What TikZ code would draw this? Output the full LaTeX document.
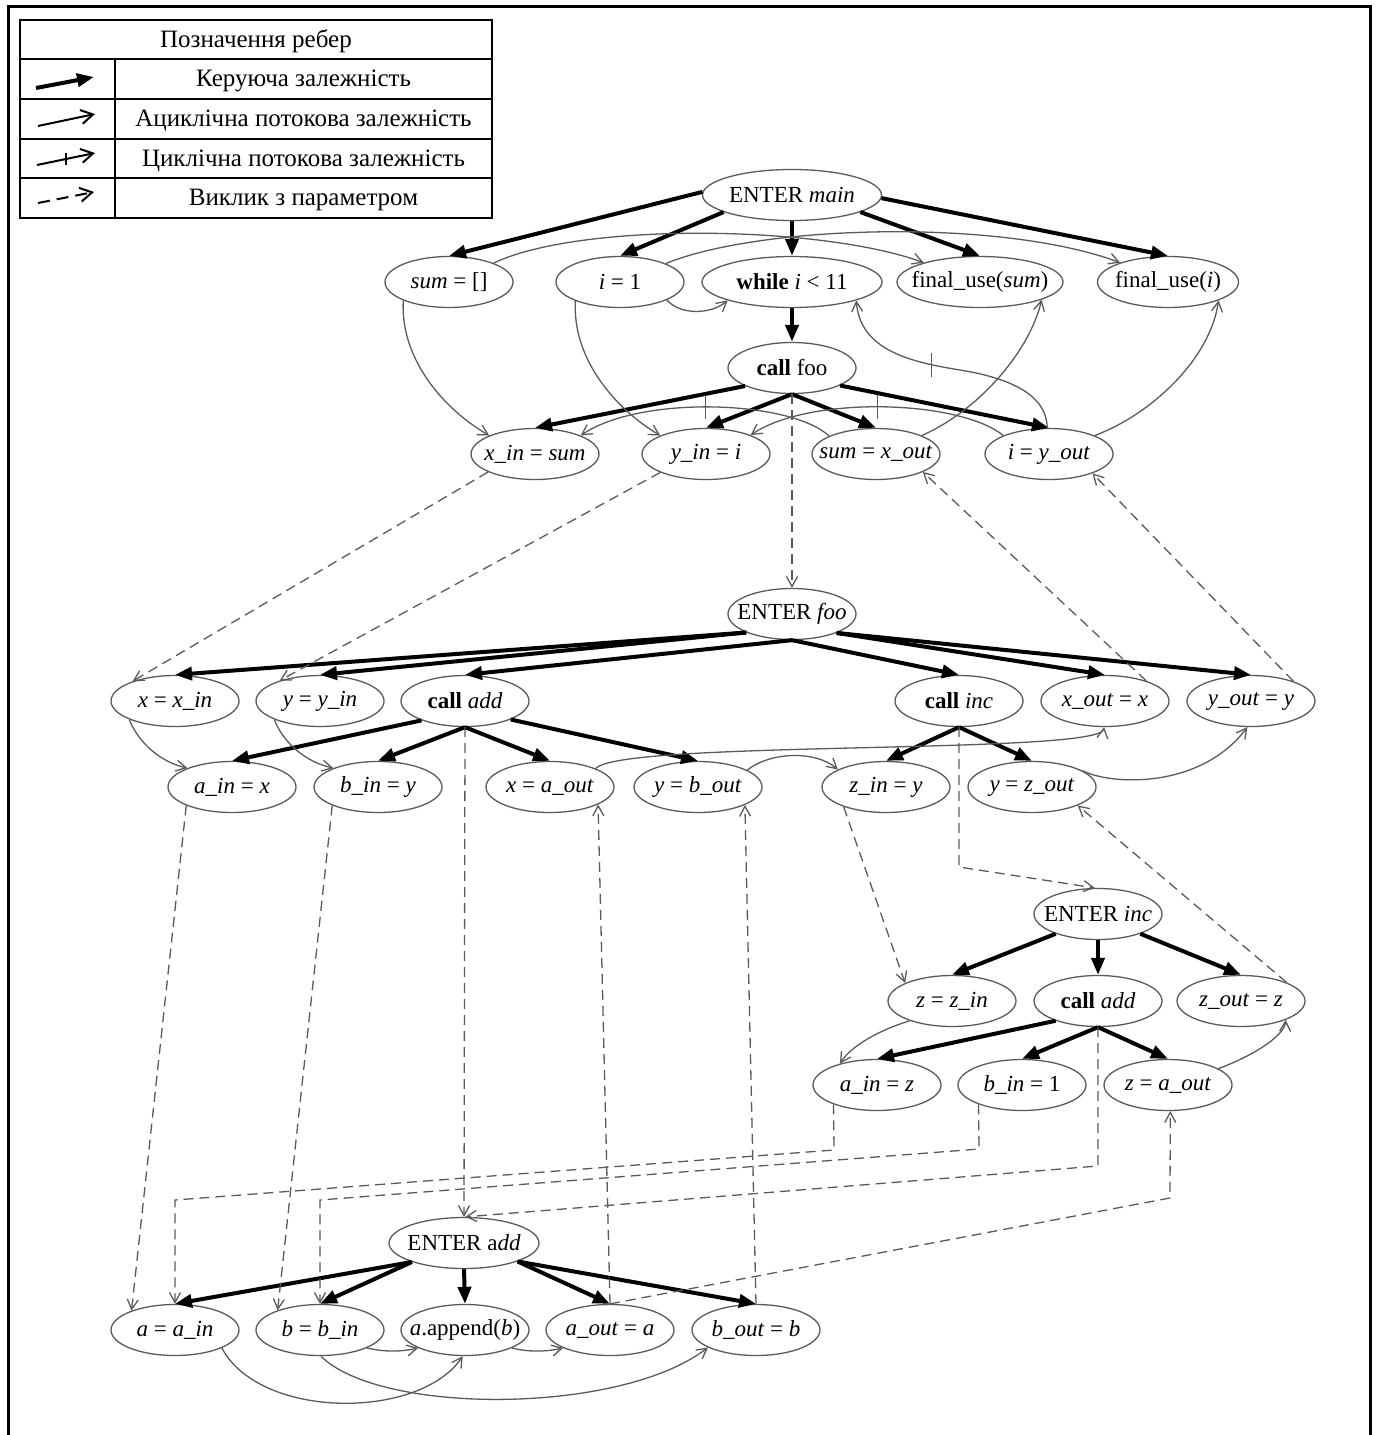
\documentclass[tikz,border=0pt]{standalone}
\usepackage{fontspec}
\setmainfont{Liberation Serif}
\usetikzlibrary{shapes.geometric,arrows.meta,decorations.markings}
\newcommand\ntext[1]{\makebox[0pt]{#1}}
\newcommand\ndfont{\fontsize{23}{27}\selectfont}
\newcommand\legfont{\fontsize{25}{29}\selectfont}
\definecolor{linegray}{HTML}{5A5A5A}
\tikzset{
  nd/.style={ellipse, draw=linegray, line width=1.3pt, minimum width=128pt,
    minimum height=51pt, inner sep=0pt, font=\ndfont},
  ctl/.style={draw=black, line width=4pt, -{Triangle[length=17pt,width=13pt]}},
  flow/.style={draw=linegray, line width=1.3pt, -{Straight Barb[length=10pt,width=11pt]}},
  % loop-carried flow: a short upright tick across the edge
  cyc/.style={flow, postaction={decorate, decoration={markings,
    mark=at position #1 with {\pgftransformresetnontranslations
      \draw[linegray, line width=1.3pt, -] (0pt,-12pt) -- (0pt,12pt);}}}},
  parcall/.style={flow, dash pattern=on 10pt off 6pt},
  legtxt/.style={font=\legfont, inner sep=0pt},
  tbl/.style={draw=black, line width=2pt},
}
\begin{document}
\begin{tikzpicture}[x=1pt, y=-1pt]
\useasboundingbox (0,0) rectangle (1377,1435);
% outer frame, open at the bottom
\draw[line width=3pt] (8,1435) -- (8,6) -- (1370,6) -- (1370,1435);

% ---------- legend ----------
\draw[tbl] (20,20) rectangle (492,218);
\foreach \yy in {59,99,139,178} \draw[tbl] (20,\yy) -- (492,\yy);
\draw[tbl] (115,59) -- (115,218);
\node[legtxt] (lt0) at (256,41) {Позначення ребер};
\node[legtxt] (lt1) at (303.5,81) {Керуюча залежність};
\node[legtxt] (lt2) at (303.5,121) {Ациклічна потокова залежність};
\node[legtxt] (lt3) at (303.5,161) {Циклічна потокова залежність};
\node[legtxt] (lt4) at (303.5,200) {Виклик з параметром};
\coordinate (lg1a) at (36,88);  \coordinate (lg1b) at (94,77);
\coordinate (lg2a) at (38,126); \coordinate (lg2b) at (95,114);
\coordinate (lg3a) at (37,165); \coordinate (lg3b) at (95,153);
\coordinate (lg4a) at (38,203); \coordinate (lg4b) at (94,192);
\draw[line width=4pt, -{Triangle[length=17pt,width=13pt]}] (lg1a) -- (lg1b);
\draw[line width=2pt, -{Straight Barb[length=12pt,width=14pt]}] (lg2a) -- (lg2b);
\draw[line width=2pt, -{Straight Barb[length=12pt,width=14pt]},
  postaction={decorate, decoration={markings,
    mark=at position 0.5 with {\pgftransformresetnontranslations
      \draw[black, line width=1.5pt, -] (0pt,-6pt) -- (0pt,6pt);}}}]
  (lg3a) -- (lg3b);
\draw[line width=2pt, dash pattern=on 12pt off 7pt, -{Straight Barb[length=12pt,width=14pt]}] (lg4a) -- (lg4b);

% ---------- main ----------
\node[nd, minimum width=179pt] (main) at (792,195) {\ntext{ENTER \textit{main}}};
\node[nd] (sum) at (449,282) {\ntext{\textit{sum} = []}};
\node[nd] (ione) at (620,282) {\ntext{\textit{i} = 1}};
\node[nd, minimum width=180pt] (while) at (792,282) {\ntext{\textbf{while} \textit{i} < 11}};
\node[nd, minimum width=166pt] (fsum) at (980,282) {\ntext{final\_use(\textit{sum})}};
\node[nd, minimum width=141pt] (fi) at (1168,282) {\ntext{final\_use(\textit{i})}};
\node[nd] (cfoo) at (792,368) {\ntext{\textbf{call} foo}};
\node[nd] (xin) at (535,454) {\ntext{\textit{x\_in} = \textit{sum}}};
\node[nd] (yin) at (706,454) {\ntext{\textit{y\_in} = \textit{i}}};
\node[nd] (sxout) at (876,454) {\ntext{\textit{sum} = \textit{x\_out}}};
\node[nd] (iyout) at (1049,454) {\ntext{\textit{i} = \textit{y\_out}}};

% ---------- foo ----------
\node[nd] (efoo) at (792,614) {\ntext{ENTER \textit{foo}}};
\node[nd] (xx) at (175,701) {\ntext{\textit{x} = \textit{x\_in}}};
\node[nd] (yy) at (320,701) {\ntext{\textit{y} = \textit{y\_in}}};
\node[nd] (cadd) at (465,701) {\ntext{\textbf{call} \textit{add}}};
\node[nd] (cinc) at (959,701) {\ntext{\textbf{call} \textit{inc}}};
\node[nd] (xout) at (1105,701) {\ntext{\textit{x\_out} = \textit{x}}};
\node[nd] (yout) at (1251,701) {\ntext{\textit{y\_out} = \textit{y}}};
\node[nd] (ain) at (232,787) {\ntext{\textit{a\_in} = \textit{x}}};
\node[nd] (bin) at (378,787) {\ntext{\textit{b\_in} = \textit{y}}};
\node[nd] (xaout) at (550,787) {\ntext{\textit{x} = \textit{a\_out}}};
\node[nd] (ybout) at (698,787) {\ntext{\textit{y} = \textit{b\_out}}};
\node[nd] (zin) at (886,787) {\ntext{\textit{z\_in} = \textit{y}}};
\node[nd] (yzout) at (1032,787) {\ntext{\textit{y} = \textit{z\_out}}};

% ---------- inc ----------
\node[nd] (einc) at (1098,914) {\ntext{ENTER \textit{inc}}};
\node[nd] (zzin) at (952,1001) {\ntext{\textit{z} = \textit{z\_in}}};
\node[nd] (caddb) at (1098,1001) {\ntext{\textbf{call} \textit{add}}};
\node[nd] (zout) at (1241,1001) {\ntext{\textit{z\_out} = \textit{z}}};
\node[nd] (ainz) at (877,1085) {\ntext{\textit{a\_in} = \textit{z}}};
\node[nd] (bone) at (1022,1085) {\ntext{\textit{b\_in} = 1}};
\node[nd] (zaout) at (1168,1085) {\ntext{\textit{z} = \textit{a\_out}}};

% ---------- add ----------
\node[nd, minimum width=150pt] (eadd) at (464,1243) {\ntext{ENTER a\textit{dd}}};
\node[nd] (aain) at (175,1330) {\ntext{\textit{a} = \textit{a\_in}}};
\node[nd] (bbin) at (320,1330) {\ntext{\textit{b} = \textit{b\_in}}};
\node[nd] (app) at (465,1330) {\ntext{\textit{a}.append(\textit{b})}};
\node[nd] (aout) at (610,1330) {\ntext{\textit{a\_out} = \textit{a}}};
\node[nd] (bout) at (756,1330) {\ntext{\textit{b\_out} = \textit{b}}};

% ---------- control dependences ----------
\draw[ctl] (main.178) -- (sum.north);
\draw[ctl] (main.194) -- (ione.north);
\draw[ctl] (main.south) -- (while.north);
\draw[ctl] (main.346) -- (fsum.north);
\draw[ctl] (main.358) -- (fi.north);
\draw[ctl] (while.south) -- (cfoo.north);
\draw[ctl] (cfoo.201) -- (xin.north);
\draw[ctl] (cfoo.south) -- (yin.north);
\draw[ctl] (cfoo.south) -- (sxout.north);
\draw[ctl] (cfoo.340) -- (iyout.north);
\draw[ctl] (efoo.202) -- (xx.north);
\draw[ctl] (efoo.202) -- (yy.north);
\draw[ctl] (efoo.south) -- (cadd.north);
\draw[ctl] (efoo.south) -- (cinc.north);
\draw[ctl] (efoo.337) -- (xout.north);
\draw[ctl] (efoo.337) -- (yout.north);
\draw[ctl] (cadd.204) -- (ain.north);
\draw[ctl] (cadd.south) -- (bin.north);
\draw[ctl] (cadd.south) -- (xaout.north);
\draw[ctl] (cadd.338) -- (ybout.north);
\draw[ctl] (cinc.south) -- (zin.north);
\draw[ctl] (cinc.south) -- (yzout.north);
\draw[ctl] (einc.205) -- (zzin.north);
\draw[ctl] (einc.south) -- (caddb.north);
\draw[ctl] (einc.335) -- (zout.north);
\draw[ctl] (caddb.205) -- (ainz.north);
\draw[ctl] (caddb.south) -- (bone.north);
\draw[ctl] (caddb.south) -- (zaout.north);
\draw[ctl] (eadd.200) -- (aain.north);
\draw[ctl] (eadd.200) -- (bbin.north);
\draw[ctl] (eadd.south) -- (app.north);
\draw[ctl] (eadd.341) -- (aout.north);
\draw[ctl] (eadd.341) -- (bout.north);

% ---------- data flow ----------
\draw[flow] (sum.23) .. controls (580,222) and (820,225) .. (fsum.161);
\draw[flow] (ione.22) .. controls (760,225) and (1000,218) .. (fi.158);
\draw[flow] (ione.339) .. controls (680,315) and (710,315) .. (while.196);
\draw[flow] (sum.202) .. controls (400,360) and (445,410) .. (xin.158);
\draw[flow] (ione.203) .. controls (572,360) and (617,410) .. (yin.158);
\draw[cyc=0.57] (iyout.94) .. controls (1047,395) and (1010,378) .. (960,370)
  .. controls (910,362) and (860,350) .. (while.344);
\draw[flow] (sxout.22) .. controls (980,410) and (1030,350) .. (fsum.344);
\draw[flow] (iyout.22) .. controls (1150,415) and (1210,360) .. (fi.340);
\draw[cyc=0.5] (sxout.159) .. controls (790,400) and (640,395) .. (xin.22);
\draw[cyc=0.5] (iyout.158) .. controls (960,400) and (810,395) .. (yin.23);

\draw[flow] (xx.202) .. controls (138,742) and (160,762) .. (ain.157);
\draw[flow] (yy.202) .. controls (283,742) and (305,762) .. (bin.157);
\draw[flow] (xaout.22) .. controls (620,740) and (1100,755) .. (xout.268);
\draw[flow] (ybout.19) .. controls (770,752) and (815,750) .. (zin.160);
\draw[flow] (yzout.18) .. controls (1110,785) and (1200,790) .. (yout.262);

\draw[flow] (zzin.205) .. controls (880,1030) and (852,1045) .. (ainz.150);
\draw[flow] (zaout.18) .. controls (1255,1055) and (1285,1035) .. (zout.337);

\draw[flow] (bbin.339) .. controls (385,1352) and (400,1352) .. (app.201);
\draw[flow] (app.339) .. controls (528,1352) and (545,1352) .. (aout.201);
\draw[flow] (aain.339) .. controls (260,1420) and (420,1420) .. (app.265);
\draw[flow] (bbin.272) .. controls (380,1415) and (620,1415) .. (bout.200);

% ---------- parameter passing ----------
\coordinate (kinc) at (959,867);
\coordinate (ka1) at (834,1150);  \coordinate (ka2) at (175,1200);
\coordinate (kb1) at (979,1149);  \coordinate (kb2) at (320,1200);
\coordinate (kc1) at (1098,1166);
\coordinate (kd1) at (1170,1198);

\draw[parcall] (cfoo.south) -- (efoo.north);
\draw[parcall] (xin.201) -- (xx.155);
\draw[parcall] (yin.202) -- (yy.153);
\draw[parcall] (xout.26) -- (sxout.339);
\draw[parcall] (yout.25) -- (iyout.336);

\draw[parcall] (cadd.south) -- (eadd.north);
\draw[parcall] (ain.202) -- (aain.156);
\draw[parcall] (bin.202) -- (bbin.155);
\draw[parcall] (aout.north) -- (xaout.340);
\draw[parcall] (bout.north) -- (ybout.339);

\draw[parcall] (cinc.south) -- (kinc) -- (einc.97);
\draw[parcall] (zin.205) -- (zzin.159);
\draw[parcall] (zout.22) -- (yzout.338);

\draw[parcall] (ainz.204) -- (ka1) -- (ka2) -- (aain.north);
\draw[parcall] (bone.204) -- (kb1) -- (kb2) -- (bbin.north);
\draw[parcall] (caddb.south) -- (kc1) -- (eadd.87);
\draw[parcall] (aout.north) -- (kd1) -- (zaout.275);
\end{tikzpicture}
\end{document}
